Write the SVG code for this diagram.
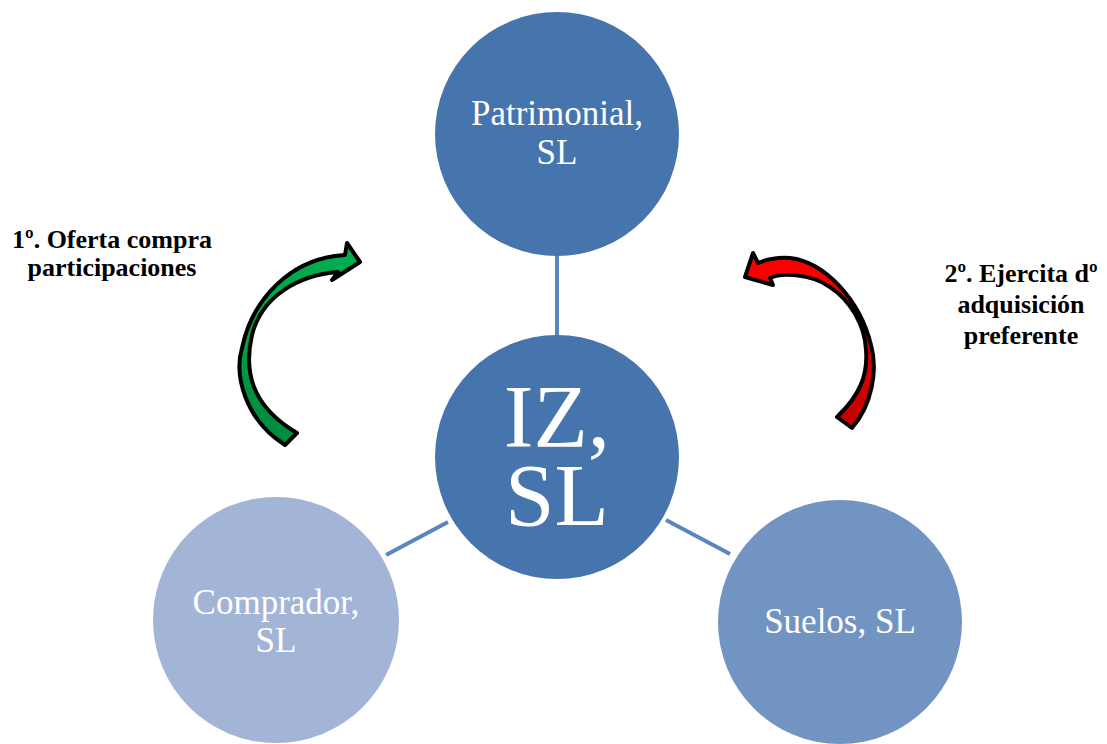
<svg xmlns="http://www.w3.org/2000/svg" width="1107" height="744" viewBox="0 0 1107 744">
<defs>
<style>
.t{font-family:"Liberation Serif","Times New Roman",serif;fill:#fff;text-anchor:middle}
.lbl{font-family:"Liberation Serif","Times New Roman",serif;font-weight:bold;font-size:26px;fill:#000;text-anchor:middle}
.conn{stroke:#5B85C0;stroke-width:4}
.arr{stroke:#000;stroke-width:4;stroke-linejoin:round}
</style>
<linearGradient id="gg" x1="0" y1="0" x2="0" y2="1"><stop offset="0" stop-color="#00B050"/><stop offset="1" stop-color="#00893D"/></linearGradient>
<linearGradient id="rg" x1="0" y1="0" x2="0" y2="1"><stop offset="0" stop-color="#FF0000"/><stop offset="1" stop-color="#C00000"/></linearGradient>
</defs>
<rect width="1107" height="744" fill="#fff"/>
<g id="connectors">
<line class="conn" x1="557" y1="255" x2="557" y2="335"/>
<line class="conn" x1="386" y1="555" x2="448" y2="522"/>
<line class="conn" x1="666" y1="520" x2="730" y2="554"/>
</g>
<g id="patrimonial">
<circle cx="557" cy="134" r="122" fill="#4674AC"/>
<text class="t" font-size="35"><tspan x="557" y="125">Patrimonial,</tspan><tspan x="557" y="164">SL</tspan></text>
</g>
<g id="iz">
<circle cx="557" cy="457" r="122" fill="#4674AC"/>
<text class="t" font-size="89"><tspan x="557" y="446">IZ,</tspan><tspan x="557" y="525">SL</tspan></text>
</g>
<g id="comprador">
<circle cx="276" cy="620" r="123" fill="#A2B5D6"/>
<text class="t" font-size="35"><tspan x="276" y="614">Comprador,</tspan><tspan x="276" y="652">SL</tspan></text>
</g>
<g id="suelos">
<circle cx="840" cy="622" r="122" fill="#7294C2"/>
<text class="t" x="840" y="633" font-size="35">Suelos, SL</text>
</g>
<g id="arrow1">
<path class="arr" fill="url(#gg)" d="M285,445 C245,420 234,375 242,348 C252,300 290,258 345,255 L347,243 L360,262 L332,280 L338,272 C300,275 262,295 252,335 C244,370 250,405 297,433 Z"/>
<text class="lbl"><tspan x="112" y="248">1º. Oferta compra</tspan><tspan x="112" y="276">participaciones</tspan></text>
</g>
<g id="arrow2">
<path class="arr" fill="url(#rg)" d="M852,428 C872,405 878,370 871,345 C860,300 825,262 790,258 C775,257 765,260 758,263 L753,253 L745,277 L773,285 L770,278 C780,273 810,273 830,287 C850,300 865,325 866,350 C868,375 860,395 837,417 Z"/>
<text class="lbl"><tspan x="1021" y="282">2º. Ejercita dº</tspan><tspan x="1021" y="313">adquisición</tspan><tspan x="1021" y="344">preferente</tspan></text>
</g>
</svg>
